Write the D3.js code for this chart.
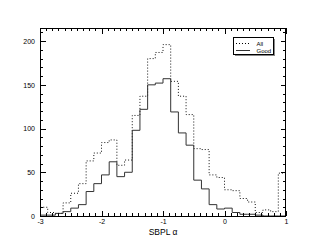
<!DOCTYPE html>
<html><head><meta charset="utf-8">
<script src="https://cdn.jsdelivr.net/npm/d3@7"></script>
<style>html,body{margin:0;padding:0;background:#fff;}svg{display:block;}</style>
</head><body><svg id="c" width="311" height="249"></svg>
<script>
// bin lower edges of the SBPL alpha histogram (width 0.125)
const binLowEdges = [-3,-2.875,-2.75,-2.625,-2.5,-2.375,-2.25,-2.125,-2,-1.875,-1.75,-1.625,-1.5,-1.375,-1.25,-1.125,
  -1,-0.875,-0.75,-0.625,-0.5,-0.375,-0.25,-0.125,0,0.125,0.25,0.375,0.5,0.625,0.75,0.875];
const binHigh = 1;
const allCounts  = [10,4,3,15,26,37,63,72,84,87,58,64,115,137,180,187,196,154,137,116,77,76,47,44,30,29,20,16,4,7,5,49];
const goodCounts = [1,1,3,5,9,13,28,37,47,62,45,50,98,122,150,152,157,119,95,81,41,31,13,8,9,4,2,2,1,0,0,0];
const xTickLabels = [-3,-2,-1,0,1];
const yTickLabels = [0,50,100,150,200];
const xDomain = [-3,1];
const yDomain = [0,215];
const seriesNames = ["All","Good"];
const xTitle = "SBPL α";

const W=311,H=249, L=40, R=286, T=28, B=216;
const svg = d3.select("#c");
const font = "'Liberation Sans', Arial, Helvetica, sans-serif";
const x = d3.scaleLinear().domain(xDomain).range([L,R]);
const y = d3.scaleLinear().domain(yDomain).range([B,T]);

function stepPts(vals){
  const pts=[[binLowEdges[0],0]];
  vals.forEach((v,i)=>pts.push([binLowEdges[i],v]));
  pts.push([binHigh, vals[vals.length-1]]);
  pts.push([binHigh,0]);
  return pts;
}
const line = d3.line().x(d=>x(d[0])).y(d=>y(d[1])).curve(d3.curveStepAfter);
svg.append("clipPath").attr("id","clp").append("rect").attr("x",L).attr("y",T).attr("width",R-L).attr("height",B-T);
const g = svg.append("g").attr("clip-path","url(#clp)");
g.append("path").attr("d",line(stepPts(allCounts))).attr("fill","none").attr("stroke","#111").attr("stroke-width",1).attr("stroke-dasharray","1,2");
g.append("path").attr("d",line(stepPts(goodCounts))).attr("fill","none").attr("stroke","#333").attr("stroke-width",1);

// axes (ROOT style: ticks inside, mirrored)
const tk = svg.append("g").attr("stroke","#000").attr("stroke-width",1).attr("shape-rendering","crispEdges");
const xMinor = d3.range(-30,11).map(v=>v/10);
xMinor.forEach(v=>{
  const major = Math.abs(v-Math.round(v))<1e-9;
  const len = major?5.5:2.7;
  const px = Math.round(x(v))+0.5;
  tk.append("line").attr("x1",px).attr("x2",px).attr("y1",B).attr("y2",B-len);
  tk.append("line").attr("x1",px).attr("x2",px).attr("y1",T).attr("y2",T+len);
});
const yMinor = d3.range(0,22).map(v=>v*10);
yMinor.forEach(v=>{
  const major = v%50===0;
  const len = major?5.5:2.7;
  const py = Math.round(y(v))+0.5;
  tk.append("line").attr("y1",py).attr("y2",py).attr("x1",L).attr("x2",L+len);
  tk.append("line").attr("y1",py).attr("y2",py).attr("x1",R).attr("x2",R-len);
});
svg.append("rect").attr("x",L+0.5).attr("y",T+0.5).attr("width",R-L-1).attr("height",B-T).attr("fill","none").attr("stroke","#000").attr("stroke-width",1).attr("shape-rendering","crispEdges");

const xAxisG = svg.append("g").attr("transform",`translate(0,${B})`)
  .call(d3.axisBottom(x).tickValues(xTickLabels).tickSize(0).tickPadding(0).tickFormat(d=>String(d)));
xAxisG.select(".domain").remove();
xAxisG.selectAll("text").attr("y",8).attr("dy",0).attr("font-family",font).attr("font-size",7).attr("fill","#000");
const yAxisG = svg.append("g").attr("transform",`translate(${L},0)`)
  .call(d3.axisLeft(y).tickValues(yTickLabels).tickSize(0).tickPadding(5).tickFormat(d=>String(d)));
yAxisG.select(".domain").remove();
yAxisG.selectAll("text").attr("font-family",font).attr("font-size",7).attr("fill","#000");

svg.append("text").attr("x",(L+R)/2).attr("y",234.5).attr("text-anchor","middle")
  .attr("font-family",font).attr("font-size",8.5).attr("fill","#000").text(xTitle);

// legend
const lg = svg.append("g");
lg.append("rect").attr("x",233.5).attr("y",37.5).attr("width",40).attr("height",17).attr("fill","#fff").attr("stroke","#000").attr("stroke-width",1).attr("shape-rendering","crispEdges");
lg.append("path").attr("d","M274.5,38.5V55.5H234.5").attr("fill","none").attr("stroke","#888").attr("stroke-width",1).attr("shape-rendering","crispEdges");
lg.append("line").attr("x1",236).attr("x2",250).attr("y1",43.5).attr("y2",43.5).attr("stroke","#000").attr("stroke-dasharray","1,2");
lg.append("line").attr("x1",236).attr("x2",250).attr("y1",50.5).attr("y2",50.5).attr("stroke","#333");
lg.append("text").attr("x",256.5).attr("y",45.5).attr("font-family",font).attr("font-size",6).text(seriesNames[0]);
lg.append("text").attr("x",256.5).attr("y",53.3).attr("font-family",font).attr("font-size",6).text(seriesNames[1]);
</script></body></html>
